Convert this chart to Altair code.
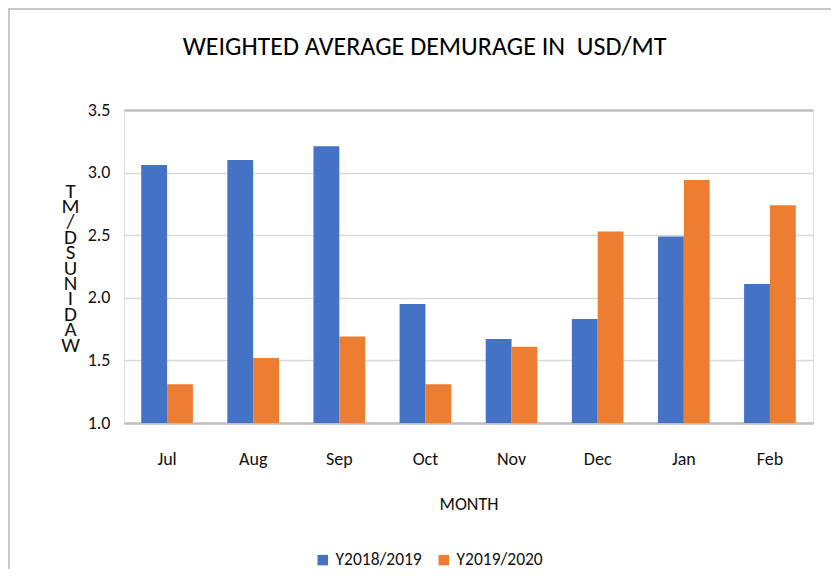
import altair as alt
import pandas as pd

months = ["Jul", "Aug", "Sep", "Oct", "Nov", "Dec", "Jan", "Feb"]
series_names = ["Y2018/2019", "Y2019/2020"]
y2018_2019 = [3.06, 3.10, 3.21, 1.95, 1.67, 1.83, 2.49, 2.11]
y2019_2020 = [1.31, 1.52, 1.69, 1.31, 1.61, 2.53, 2.94, 2.74]
y_ticks = [1.0, 1.5, 2.0, 2.5, 3.0, 3.5]
colors = ["#4472C4", "#ED7D31"]
title_text = "WEIGHTED AVERAGE DEMURAGE IN\u00a0 USD/MT"
x_title = "MONTH"
y_title_letters = list("TM/DSUNIDAW")

rows = []
for m, a, b in zip(months, y2018_2019, y2019_2020):
    rows.append({"month": m, "series": series_names[0], "value": a})
    rows.append({"month": m, "series": series_names[1], "value": b})
df = pd.DataFrame(rows)

FONT = "Carlito, Lato, sans-serif"

bars = alt.Chart(df).mark_bar(clip=True).encode(
    x=alt.X(
        "month:N",
        sort=months,
        scale=alt.Scale(paddingInner=0.4, paddingOuter=0.2),
        axis=alt.Axis(
            title=x_title,
            labelAngle=0,
            labelFontSize=18,
            labelFont=FONT,
            labelColor="#111111",
            labelPadding=27,
            ticks=False,
            domainColor="#bfbfbf",
            domainWidth=2.5,
            titleFont=FONT,
            titleFontSize=18,
            titleFontWeight="normal",
            titleColor="#111111",
            titleY=81,
            titleBaseline="middle",
        ),
    ),
    xOffset=alt.XOffset("series:N", sort=series_names),
    y=alt.Y(
        "value:Q",
        scale=alt.Scale(domain=[1.0, 3.5], zero=False, nice=False),
        axis=alt.Axis(
            values=y_ticks,
            format=".1f",
            title=y_title_letters,
            titleAngle=0,
            titleAlign="center",
            titleBaseline="top",
            titleX=-54,
            titleY=70,
            titleFont=FONT,
            titleFontSize=21,
            titleFontWeight="normal",
            titleLineHeight=15.4,
            titleColor="#111111",
            labelFontSize=18,
            labelFont=FONT,
            labelColor="#111111",
            labelPadding=14,
            ticks=False,
            domain=False,
            gridColor=alt.condition("datum.value == 3.5", alt.value("#bfbfbf"), alt.value("#d9d9d9")),
            gridWidth=alt.condition("datum.value == 3.5", alt.value(2.5), alt.value(1.5)),
        ),
    ),
    color=alt.Color(
        "series:N",
        scale=alt.Scale(domain=series_names, range=colors),
        legend=alt.Legend(
            title=None,
            orient="none",
            legendX=190,
            legendY=441,
            direction="horizontal",
            symbolType="square",
            symbolSize=110,
            symbolStrokeWidth=0,
            labelFont=FONT,
            labelFontSize=17.5,
            labelColor="#111111",
            columnPadding=13,
        ),
    ),
)

frame_df = pd.DataFrame({"k": [0]})
top_border = alt.Chart(frame_df).mark_rule(color="#c8c8c8", strokeWidth=2).encode(
    x=alt.value(-116), x2=alt.value(707), y=alt.value(-101)
)
left_border = alt.Chart(frame_df).mark_rule(color="#c8c8c8", strokeWidth=2).encode(
    x=alt.value(-115), y=alt.value(-102), y2=alt.value(460)
)

chart = alt.layer(bars, top_border, left_border).properties(
    width=689,
    height=313,
    autosize=alt.AutoSizeParams(type="none"),
    padding={"left": 116, "top": 102, "right": 18, "bottom": 146},
    title=alt.TitleParams(
        text=title_text,
        font=FONT,
        fontSize=26,
        fontWeight="normal",
        color="#000000",
        anchor="middle",
        dx=-44,
        offset=-53,
    ),
).configure_view(stroke=None).configure(background="white")

chart.save("out.html", embed_options={"renderer": "svg", "actions": False})
